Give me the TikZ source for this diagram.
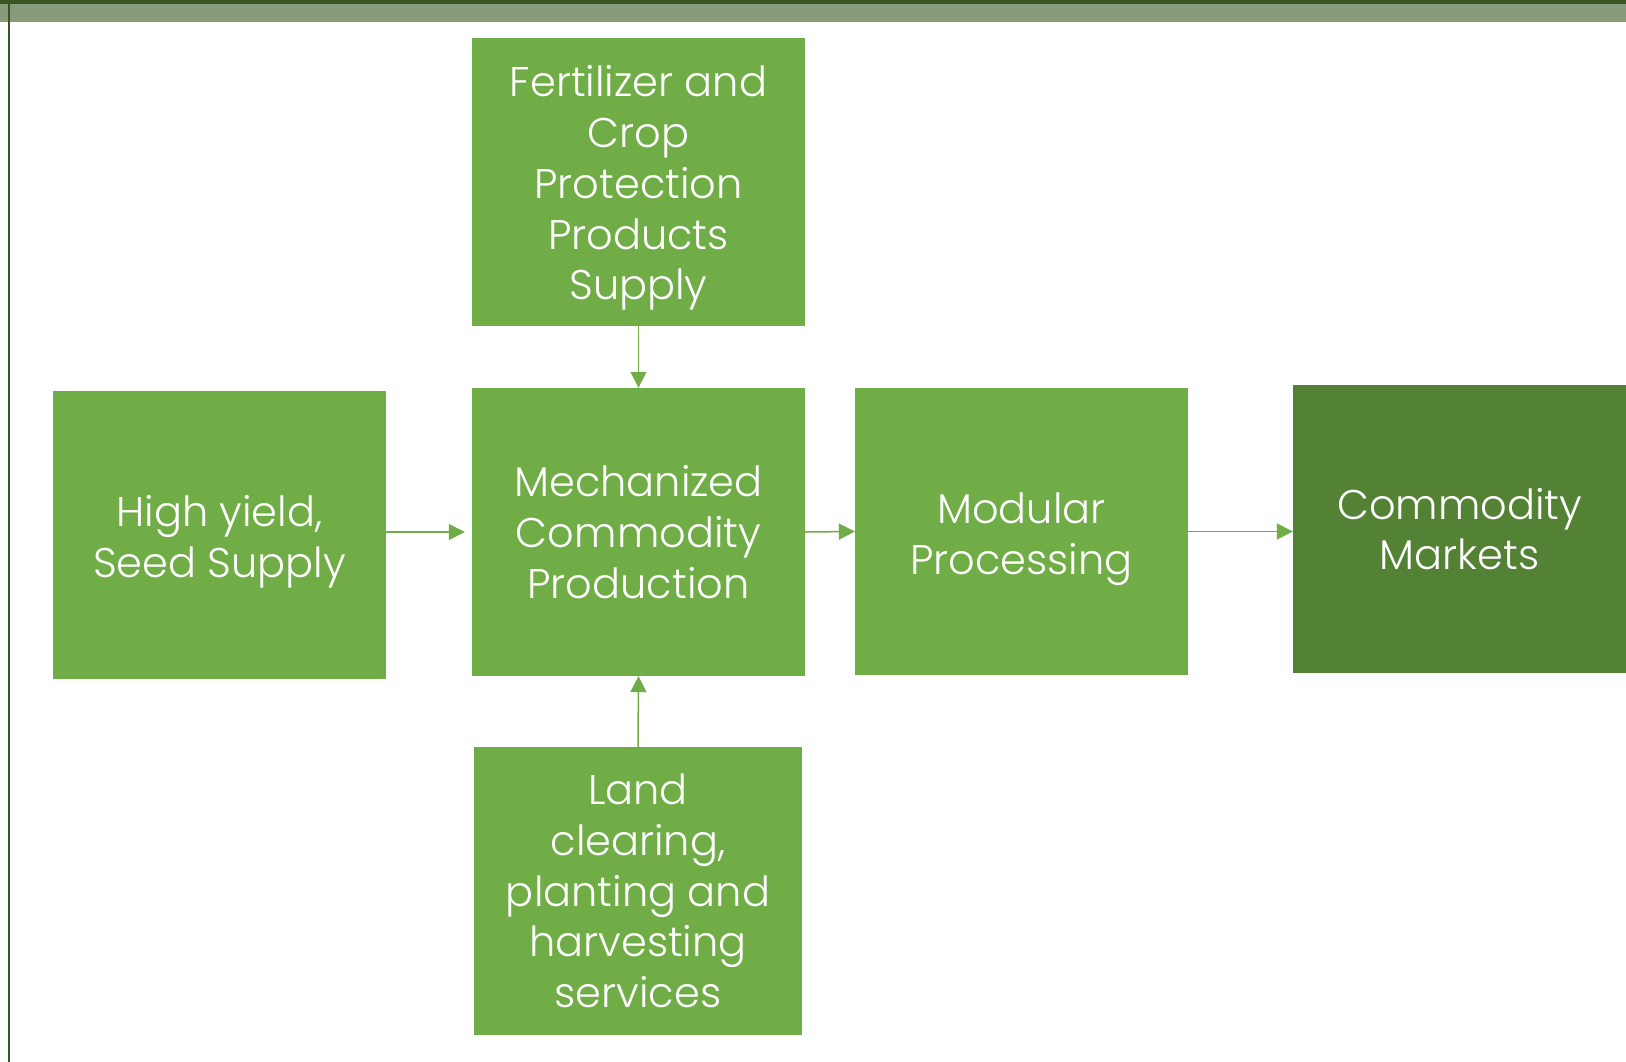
\documentclass[tikz,border=0pt]{standalone}
\usepackage{fontspec}
\setmainfont{Poppins Light}
\usetikzlibrary{arrows.meta}
\definecolor{boxg}{HTML}{70AD47}
\definecolor{boxd}{HTML}{548235}
\definecolor{topd}{HTML}{375623}
\definecolor{topg}{HTML}{879A7A}
\tikzset{
  box/.style={fill=boxg, text=white, inner sep=0pt, align=center,
    minimum width=333pt, minimum height=288pt,
    font=\fontsize{41.5}{50.8}\selectfont},
  arr/.style={draw=boxg, line width=1.5pt, -{Triangle[length=16pt,width=16pt]}}
}
\begin{document}
\begin{tikzpicture}[x=1pt,y=-1pt]
\useasboundingbox (0,0) rectangle (1626,1062);
\fill[white] (0,0) rectangle (1626,1062);
\fill[topd] (0,0) rectangle (1626,4.5);
\fill[topg] (0,4.5) rectangle (1626,22);
\draw[topd, line width=2pt] (8.5,4) -- (8.5,1062);
\node[box] (fert) at (638.5,182) {};
\node[text=white, align=center, font=\fontsize{41.5}{50.8}\selectfont] (fertt) at (638.5,188) {Fertilizer and\\Crop\\Protection\\Products\\Supply};
\node[box] (mech) at (638.5,532) {Mechanized\\Commodity\\Production};
\node[box] (high) at (219.5,535) {};
\node[text=white, align=center, font=\fontsize{41.5}{50.8}\selectfont] (hight) at (219.5,542) {High yield,\\Seed Supply};
\node[box, minimum height=287pt] (mod) at (1021.5,531.5) {};
\node[text=white, align=center, font=\fontsize{41.5}{50.8}\selectfont] (modt) at (1021.5,539) {Modular\\Processing};
\node[box, fill=boxd] (mkt) at (1459.5,529) {Commodity\\Markets};
\node[box, minimum width=328pt] (land) at (638,891) {Land\\clearing,\\planting and\\harvesting\\services};
\coordinate (mechin) at ([xshift=-7pt]mech.west);
\draw[arr] (high.east |- mech) -- (mechin);
\draw[arr] (fert.south) -- (mech.north);
\draw[arr] (land.north) -- (mech.south);
\draw[arr] (mech.east) -- (mod.west);
\draw[arr] (mod.east) -- (mkt.west |- mod.east);
\end{tikzpicture}
\end{document}
